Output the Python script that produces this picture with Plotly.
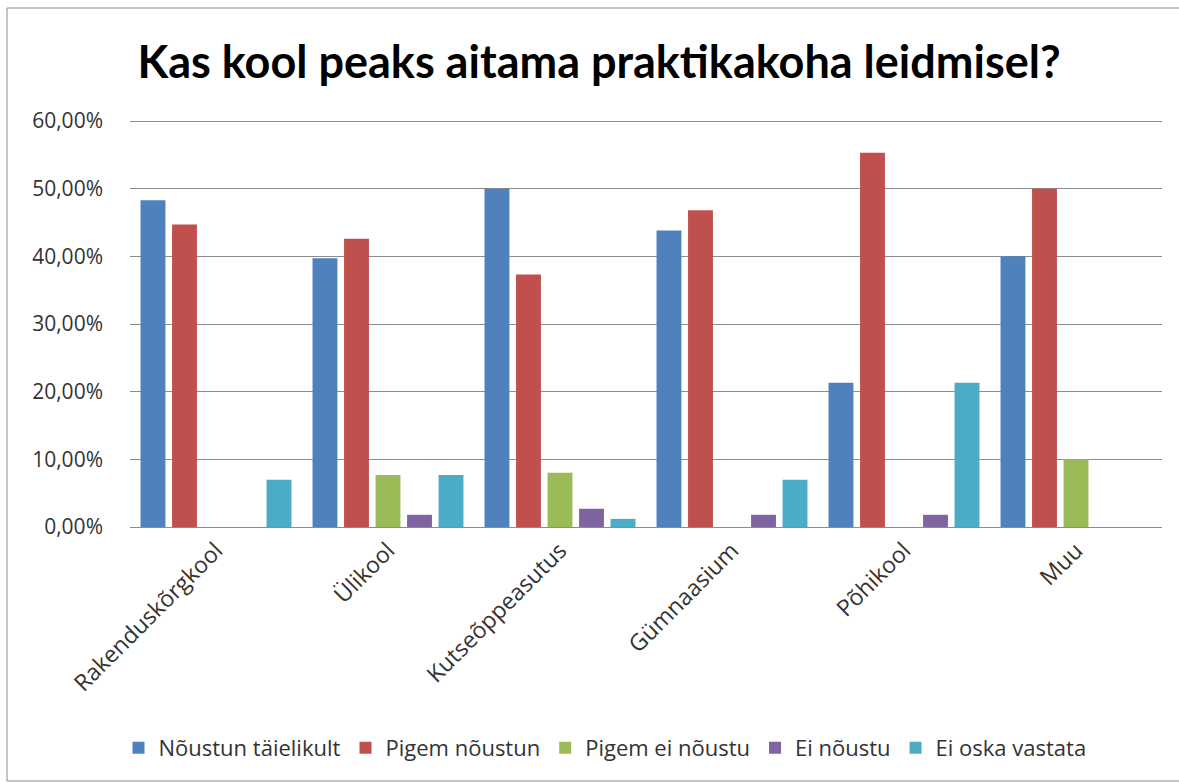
import plotly.graph_objects as go

categories = ["Rakenduskõrgkool", "Ülikool", "Kutseõppeasutus", "Gümnaasium", "Põhikool", "Muu"]
series_names = ["Nõustun täielikult", "Pigem nõustun", "Pigem ei nõustu", "Ei nõustu", "Ei oska vastata"]
noustun_taielikult = [0.483, 0.397, 0.500, 0.438, 0.213, 0.400]
pigem_noustun = [0.447, 0.426, 0.373, 0.468, 0.553, 0.500]
pigem_ei_noustu = [0.0, 0.077, 0.080, 0.0, 0.0, 0.100]
ei_noustu = [0.0, 0.018, 0.027, 0.018, 0.018, 0.0]
ei_oska_vastata = [0.070, 0.077, 0.012, 0.070, 0.213, 0.0]
colors = ["#4F81BD", "#C0504D", "#9BBB59", "#8064A2", "#4BACC6"]

values = [noustun_taielikult, pigem_noustun, pigem_ei_noustu, ei_noustu, ei_oska_vastata]

fig = go.Figure()
for name, vals, col in zip(series_names, values, colors):
    fig.add_trace(go.Bar(x=categories, y=vals, name=name, marker=dict(color=col, line=dict(width=0))))

body_font = "'Open Sans', sans-serif"
title_font = "Lato, 'Open Sans', sans-serif"
W, H = 1179, 783
L, R, T, B = 130, 17, 116, 256
pw, ph = W - L - R, H - T - B
y_top = ph / (406 / 0.6)

fig.update_layout(
    width=W, height=H,
    separators=",.",
    barmode="group", bargap=0.084, bargroupgap=0.21,
    paper_bgcolor="white", plot_bgcolor="white",
    margin=dict(l=L, r=R, t=T, b=B),
    title=dict(text="<b>Kas kool peaks aitama praktikakoha leidmisel?</b>",
               x=599 / W, xref="container", xanchor="center", y=1 - 62 / H, yanchor="middle",
               font=dict(family=title_font, size=45, color="#000000")),
    yaxis=dict(range=[0, y_top], tickvals=[0, 0.1, 0.2, 0.3, 0.4, 0.5, 0.6], tickformat=".2%",
               showgrid=True, gridcolor="#8c8c8c", gridwidth=1,
               zeroline=True, zerolinecolor="#8c8c8c", zerolinewidth=1,
               ticks="", ticklabelstandoff=26,
               showline=False,
               tickfont=dict(family=body_font, size=21, color="#333333")),
    xaxis=dict(tickangle=-45, showline=True, linecolor="#8c8c8c", ticks="",
               tickfont=dict(family=body_font, size=23, color="#333333")),
    legend=dict(orientation="h", x=605 / W, xanchor="center", xref="container",
                y=1 - 748 / H, yref="container", yanchor="middle",
                font=dict(family=body_font, size=22, color="#333333"),
                itemwidth=30, traceorder="normal"),
    shapes=[dict(type="rect", xref="paper", yref="paper",
                 x0=(7 - L) / pw, x1=(W + 5 - L) / pw,
                 y0=(H - 781 - B) / ph, y1=(H - 8 - B) / ph,
                 line=dict(color="#8c8c8c", width=1), layer="below")],
)

fig.write_html("out.html", config={"displayModeBar": False},
               post_script="document.body.style.margin='0';")
